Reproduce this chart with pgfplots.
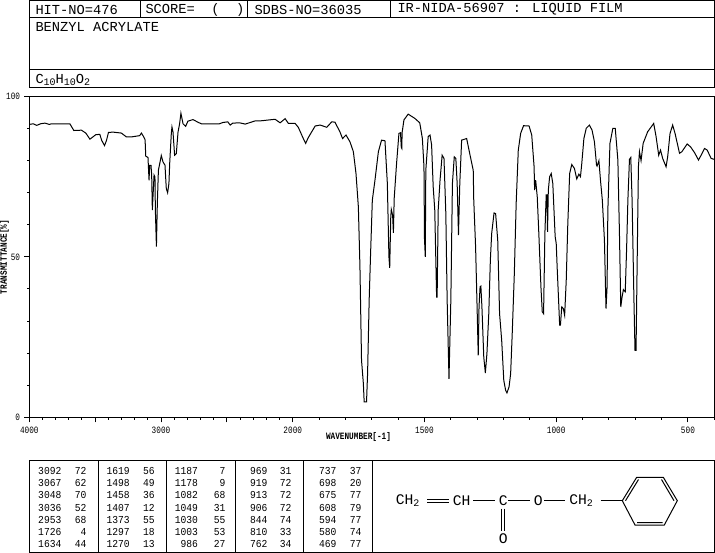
\documentclass[border=0pt]{standalone}
\usepackage{fontspec}
\usepackage{graphicx}
\usepackage{pgfplots}
\pgfplotsset{compat=1.18}
\setmainfont{Liberation Mono}
\newcommand\hd[1]{{\fontsize{10.3pt}{12pt}\selectfont #1}}
\newcommand\tk[1]{\scalebox{1}[1.25]{\fontsize{5.8pt}{7pt}\selectfont #1}}
\newcommand\tb[1]{\scalebox{1}[1.1]{\fontsize{7.25pt}{8pt}\selectfont #1}}
\newcommand\st[1]{{\fontsize{11pt}{13pt}\selectfont #1}}
\begin{document}
\begin{tikzpicture}[x=0.75pt,y=-0.75pt,line width=0.75pt]
\path[use as bounding box] (0,0) rectangle (715,553);
% header
\draw (29.5,0.5) rectangle (714.5,87.3);
\draw (29.5,17.5) -- (714.5,17.5);
\draw (29.5,69) -- (714.5,69);
\draw (140,0.5) -- (140,17.5);
\draw (247.6,0.5) -- (247.6,17.5);
\draw (390.3,0.5) -- (390.3,17.5);
\node[anchor=west,inner sep=0] at (35,9.5) {\hd{HIT-NO=476}};
\node[anchor=west,inner sep=0] at (145,9.5) {\hd{SCORE=~~(~~)}};
\node[anchor=west,inner sep=0] at (254,9.5) {\hd{SDBS-NO=36035}};
\node[anchor=west,inner sep=0] at (397,9.5) {\hd{IR-NIDA-56907 : LIQUID FILM}};
\node[anchor=west,inner sep=0] at (35,27) {\hd{BENZYL ACRYLATE}};
\node[anchor=west,inner sep=0] at (35,80) {\hd{C\raisebox{-2pt}{\fontsize{7.5pt}{8pt}\selectfont 10}H\raisebox{-2pt}{\fontsize{7.5pt}{8pt}\selectfont 10}O\raisebox{-2pt}{\fontsize{7.5pt}{8pt}\selectfont 2}}};
\begin{axis}[
  at={(21.975pt,-312.975pt)},anchor=south west,
  scale only axis,width=513.75pt,height=240.6pt,
  x coord trafo/.code={\pgfmathparse{#1>=2000?(4000-#1)/2:1000+(2000-#1)}},
  xmin=4000,xmax=400,ymin=0,ymax=100,
  axis line style={line width=0.75pt},
  tick style={black,line width=0.75pt},
  tick align=outside,xtick pos=bottom,ytick pos=left,
  major tick length=3.75pt,minor tick length=1.7pt,
  xtick={4000,3500,3000,2500,2000,1500,1000,500},
  xticklabels={\tk{4000},,\tk{3000},,\tk{2000},\tk{1500},\tk{1000},\tk{500}},
  minor xtick={3900,3800,3700,3600,3400,3300,3200,3100,2900,2800,2700,2600,2400,2300,2200,2100,1900,1800,1700,1600,1400,1300,1200,1100,900,800,700,600,400},
  ytick={0,50,100},yticklabels={\tk{0},\tk{50},\tk{100}},
  minor ytick={10,20,30,40,60,70,80,90},
  xticklabel style={inner sep=0pt,anchor=north,yshift=-3.5pt},
  yticklabel style={inner sep=0pt,anchor=east,xshift=-3pt},
  every axis x label/.style={at={(axis description cs:0.4806,-0.0614)},anchor=center},
  every axis y label/.style={at={(axis description cs:-0.0363,0.5)},rotate=90,anchor=center},
  xlabel={\tk{\bfseries WAVENUMBER[-1]}},
  ylabel={\tk{\bfseries TRANSMITTANCE[\%]}},
  clip=true]
\addplot[black,line width=0.75pt,line join=miter] coordinates {
(4000,91.3)(3970,91.5)(3944,91.0)(3914,91.5)(3881,91.7)(3848,91.3)(3831,91.5)(3692,91.5)(3662,89.4)(3604,89.5)
(3571,88.6)(3540,86.7)(3495,88.1)(3465,88.2)(3450,86.3)(3429,84.7)(3414,86.3)(3399,88.8)(3364,88.9)(3301,88.6)
(3263,87.4)(3225,87.4)(3162,87.8)(3149,88.6)(3131,87.4)(3121,86.5)(3116,81.4)(3099,81.0)(3091,73.9)(3086,78.5)
(3076,78.5)(3071,75.5)(3066,64.6)(3056,72.9)(3053,75.5)(3046,74.9)(3043,64.6)(3035,53.2)(3028,66.7)(3020,77)
(3005,80.1)(2998,81.6)(2985,79.6)(2970,78.6)(2960,71.3)(2950,70.0)(2940,72.9)(2934,79.3)(2922,88.4)(2917,90.5)
(2909,88.9)(2897,81.7)(2884,82.2)(2871,88.9)(2859,91.5)(2849,94.8)(2833,91.5)(2813,90.7)(2796,92.3)(2758,92.8)
(2720,92)(2695,91.5)(2556,91.5)(2530,91.9)(2493,92.1)(2475,91.1)(2455,91.7)(2404,91.8)
(2361,91.4)(2285,92.4)(2247,92.4)(2134,92.9)(2096,91.8)(2058,93.1)(2033,91.6)(1991,91.6)(1979,90.4)(1960,86.9)
(1951,85.4)(1941,87.2)(1915,90.8)(1896,91.1)(1871,90.4)(1852,92.1)(1840,92)(1821,89)(1811,86.9)(1798,88)
(1783,85.9)(1770,82.8)(1760,76)(1751,65.6)(1745,46.9)(1739,17.8)(1732,10.5)(1729,4.8)(1720,4.8)(1716,13.6)
(1710,36.5)(1705,50)(1698,67.7)(1688,73.9)(1675,82.8)(1663,86.4)(1650,86.2)(1641,72.9)(1635,50)(1632,46.6)
(1628,62.5)(1626,64.8)(1621,63)(1618,57.5)(1615,68.2)(1606,79.1)(1597,88.5)(1591,88.7)(1588,84.1)(1586,83.8)
(1585,88.7)(1578,92.7)(1562,94.5)(1537,93.2)(1518,91.8)(1508,86.9)(1502,78.1)(1500,55.7)(1497,50)(1495,77)
(1486,87.5)(1479,88)(1473,84.9)(1467,71.9)(1461,64.6)(1454,37.5)(1452,37.5)(1448,64.6)(1441,73.9)(1433,81.7)
(1426,80.7)(1419,63.5)(1414,36.5)(1407,12)(1400,36.5)(1394,72.9)(1387,81.2)(1381,80.7)(1376,72.9)(1371,56.8)
(1366,72.9)(1359,86.4)(1340,86.9)(1327,81.7)(1315,77)(1313,67.7)(1306,53.1)(1301,36.5)(1296,19.3)(1293,34.4)
(1289,40.7)(1286,40.9)(1282,34.4)(1275,18.8)(1269,13.8)(1263,19.9)(1256,32.3)(1250,49)(1245,57.3)(1236,63.7)
(1230,63.5)(1222,55.2)(1215,32.3)(1207,24)(1199,11.5)(1192,8.4)(1187,7.6)(1179,9.5)(1173,13.6)(1167,26.1)
(1159,44.8)(1152,66.7)(1144,83.3)(1135,88.5)(1124,90.9)(1103,90.8)(1093,88)(1084,78.1)(1082,70.8)(1078,73.9)
(1072,68.7)(1066,57.3)(1058,40.6)(1053,32.9)(1048,32.3)(1043,57.3)(1038,69.3)(1035,69.3)(1033,57.8)(1030,70.8)
(1025,75)(1019,76)(1013,72.9)(1004,56.3)(1000,54.2)(996,45.9)(991,36.5)(987,28.7)(984,28.7)(979,34.4)
(973,33.9)(968,31.8)(962,42.7)(956,60.4)(949,76)(941,78.8)(931,77.6)(922,74.3)(914,75.8)(908,75)
(903,79.1)(895,86.9)(886,90.1)(874,91.1)(864,89.5)(855,85.9)(847,78.6)(845,78.3)(838,80)(832,73.9)
(825,67.7)(817,55.2)(813,40.6)(811,33.9)(807,40.6)(804,64.6)(796,85.4)(785,90.1)(776,90.1)(766,80.2)
(760,57.3)(755,34.4)(750,37.5)(745,39.8)(738,39.1)(733,52.1)(728,67.7)(722,80.4)(717,81)(712,67.7)
(705,36.5)(701,20.9)(697,20.9)(693,46.9)(688,78.1)(684,82.8)(678,80)(670,85.4)(653,89)(630,91.6)
(621,87.5)(611,81.7)(604,83.3)(596,80.7)(583,78.1)(577,81.2)(568,88.5)(558,91.1)(549,88.5)(532,82.3)
(523,82.8)(503,85.2)(490,84.3)(475,82.5)(460,80.2)(450,81.7)(437,83.8)(427,83.3)(412,80.7)(400,80.4)};
\end{axis}
% peak table
\draw (29.3,460.7) rectangle (372.7,552.3);
\foreach \vx in {98.7,166.3,235.7,303.7} {\draw (\vx,460.7) -- (\vx,552.3);}
\foreach \xa/\xb/\lst in {
 61.7/86.7/{471/3092/72,483/3067/62,495.3/3048/70,507.5/3036/52,519.7/2953/68,531.8/1726/4,544/1634/44},
 130/155/{471/1619/56,483/1498/49,495.3/1458/36,507.5/1407/12,519.7/1373/55,531.8/1297/18,544/1270/13},
 198.3/225.7/{471/1187/7,483/1178/9,495.3/1082/68,507.5/1049/31,519.7/1030/55,531.8/1003/53,544/986/27},
 267.7/291.7/{471/969/31,483/919/72,495.3/913/72,507.5/906/72,519.7/844/74,531.8/810/33,544/762/34},
 336.7/361.7/{471/737/37,483/698/20,495.3/675/77,507.5/608/79,519.7/594/77,531.8/580/74,544/469/77}}
{\foreach \yy/\a/\b in \lst {
   \node[anchor=east,inner sep=0] at (\xa,\yy) {\tb{\a}};
   \node[anchor=east,inner sep=0] at (\xb,\yy) {\tb{\b}};
}}
% structure
\draw (372.7,460.7) rectangle (714.5,552.3);
\node[anchor=west,inner sep=0] at (395.5,500.5) {\st{CH\raisebox{-2pt}{\fontsize{7.5pt}{8pt}\selectfont 2}}};
\draw (427.3,499.3) -- (449,499.3) (427.3,502.7) -- (449,502.7);
\node[anchor=west,inner sep=0] at (452.5,500.5) {\st{CH}};
\draw (473,500.7) -- (495,500.7);
\node at (503.3,500.5) [inner sep=0] {\st{C}};
\draw (508.3,500.7) -- (530,500.7);
\node at (538.3,500.5) [inner sep=0] {\st{O}};
\draw (544,500.7) -- (565,500.7);
\node[anchor=west,inner sep=0] at (569,500.5) {\st{CH\raisebox{-2pt}{\fontsize{7.5pt}{8pt}\selectfont 2}}};
\draw (600.7,500.7) -- (622.3,500.7);
\draw (501.7,508.5) -- (501.7,530.5) (504.5,508.5) -- (504.5,530.5);
\node at (503.3,538.5) [inner sep=0] {\st{O}};
\draw (622.3,500.7) -- (636.7,477.3) -- (663.3,477.3) -- (677.3,500.7) -- (664.3,525) -- (635,525) -- cycle;
\draw (625.5,500.7) -- (638.5,479.5) (661.5,479.5) -- (674,500.7) (637,522.5) -- (662.5,522.5);
\end{tikzpicture}
\end{document}
